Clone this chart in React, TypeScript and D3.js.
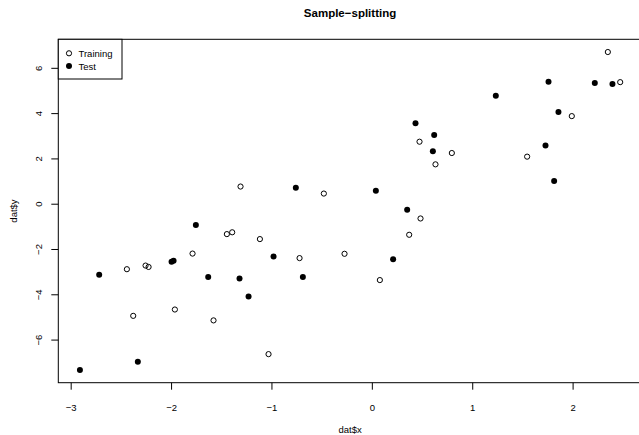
import React, { useEffect } from 'react';
import * as d3 from 'd3';

// Training points (open circles)
const trainX = [-1.313, -0.483, 2.346, 2.469, 1.987, 0.470, 0.792, 0.629, 1.542, 0.480, -1.449, -1.396, -1.120, -1.791, -2.259, -2.229, -2.445, -0.725, -1.967, -2.382, -1.582, -1.034, 0.367, -0.277, 0.075];
const trainY = [0.78, 0.47, 6.72, 5.39, 3.89, 2.76, 2.26, 1.76, 2.10, -0.63, -1.32, -1.24, -1.54, -2.18, -2.71, -2.77, -2.87, -2.38, -4.65, -4.93, -5.13, -6.62, -1.35, -2.19, -3.35];

// Test points (filled)
const testX = [-0.762, -1.758, 1.755, 2.216, 2.392, 1.230, 1.854, 0.430, 0.616, 0.603, 1.725, 1.811, 0.035, 0.347, -2.000, -1.980, -2.721, -1.635, -1.323, -1.233, -0.984, -0.692, -2.336, -2.913, 0.207];
const testY = [0.73, -0.92, 5.41, 5.35, 5.31, 4.79, 4.07, 3.57, 3.06, 2.34, 2.59, 1.03, 0.59, -0.24, -2.54, -2.50, -3.12, -3.21, -3.28, -4.07, -2.31, -3.21, -6.96, -7.32, -2.43];

const xTicks = [-3, -2, -1, 0, 1, 2];
const yTicks = [-6, -4, -2, 0, 2, 4, 6];
const legendLabels = ['Training', 'Test'];

const W = 639;
const H = 435;
const plot = { left: 58.3, top: 39.3, right: 641.8, bottom: 382.7 };
const font = '"Liberation Sans", Arial, sans-serif';

// R style axis range: data range extended by 4% on each side
const rRange = (vals: number[]) => {
  const [lo, hi] = d3.extent(vals) as [number, number];
  const pad = (hi - lo) * 0.04;
  return [lo - pad, hi + pad];
};

const fmt = (v: number) => (v < 0 ? '\u2212' + Math.abs(v) : String(v));

export default function App() {
  useEffect(() => {
    document.body.style.margin = '0';
  }, []);

  const x = d3.scaleLinear().domain(rRange([...trainX, ...testX])).range([plot.left, plot.right]);
  const y = d3.scaleLinear().domain(rRange([...trainY, ...testY])).range([plot.bottom, plot.top]);

  const midX = (plot.left + plot.right) / 2;
  const midY = (plot.top + plot.bottom) / 2;

  return (
    <svg width={W} height={H} style={{ display: 'block', fontFamily: font }}>
      <rect width={W} height={H} fill="#fff" />

      <text x={midX} y={17} textAnchor="middle" fontWeight="bold" fontSize={11.5}>
        Sample{'\u2212'}splitting
      </text>

      {/* box */}
      <rect
        x={plot.left}
        y={plot.top}
        width={plot.right - plot.left}
        height={plot.bottom - plot.top}
        fill="none"
        stroke="#000"
        strokeWidth={1}
      />

      {/* x axis */}
      {xTicks.map(t => (
        <g key={`xt${t}`}>
          <line x1={x(t)} x2={x(t)} y1={plot.bottom} y2={plot.bottom + 7} stroke="#000" />
          <text x={x(t)} y={411} textAnchor="middle" fontSize={9.5}>
            {fmt(t)}
          </text>
        </g>
      ))}
      <text x={midX} y={433} textAnchor="middle" fontSize={9.5}>
        dat$x
      </text>

      {/* y axis */}
      {yTicks.map(t => (
        <g key={`yt${t}`}>
          <line x1={plot.left - 7} x2={plot.left} y1={y(t)} y2={y(t)} stroke="#000" />
          <text
            transform={`translate(42,${y(t)}) rotate(-90)`}
            textAnchor="middle"
            fontSize={9.5}
          >
            {fmt(t)}
          </text>
        </g>
      ))}
      <text transform={`translate(17,${midY}) rotate(-90)`} textAnchor="middle" fontSize={9.5}>
        dat$y
      </text>

      {/* points */}
      {trainX.map((v, i) => (
        <circle key={`tr${i}`} cx={x(v)} cy={y(trainY[i])} r={2.6} fill="none" stroke="#000" strokeWidth={1} />
      ))}
      {testX.map((v, i) => (
        <circle key={`te${i}`} cx={x(v)} cy={y(testY[i])} r={3} fill="#000" />
      ))}

      {/* legend */}
      <rect x={plot.left} y={plot.top} width={63.7} height={39.7} fill="#fff" stroke="#000" />
      {legendLabels.map((lab, i) => (
        <g key={lab} transform={`translate(69,${53.3 + i * 12.7})`}>
          {i === 0 ? (
            <circle r={2.6} fill="none" stroke="#000" />
          ) : (
            <circle r={3} fill="#000" />
          )}
          <text x={9.5} y={3.5} fontSize={9.5}>
            {lab}
          </text>
        </g>
      ))}
    </svg>
  );
}
